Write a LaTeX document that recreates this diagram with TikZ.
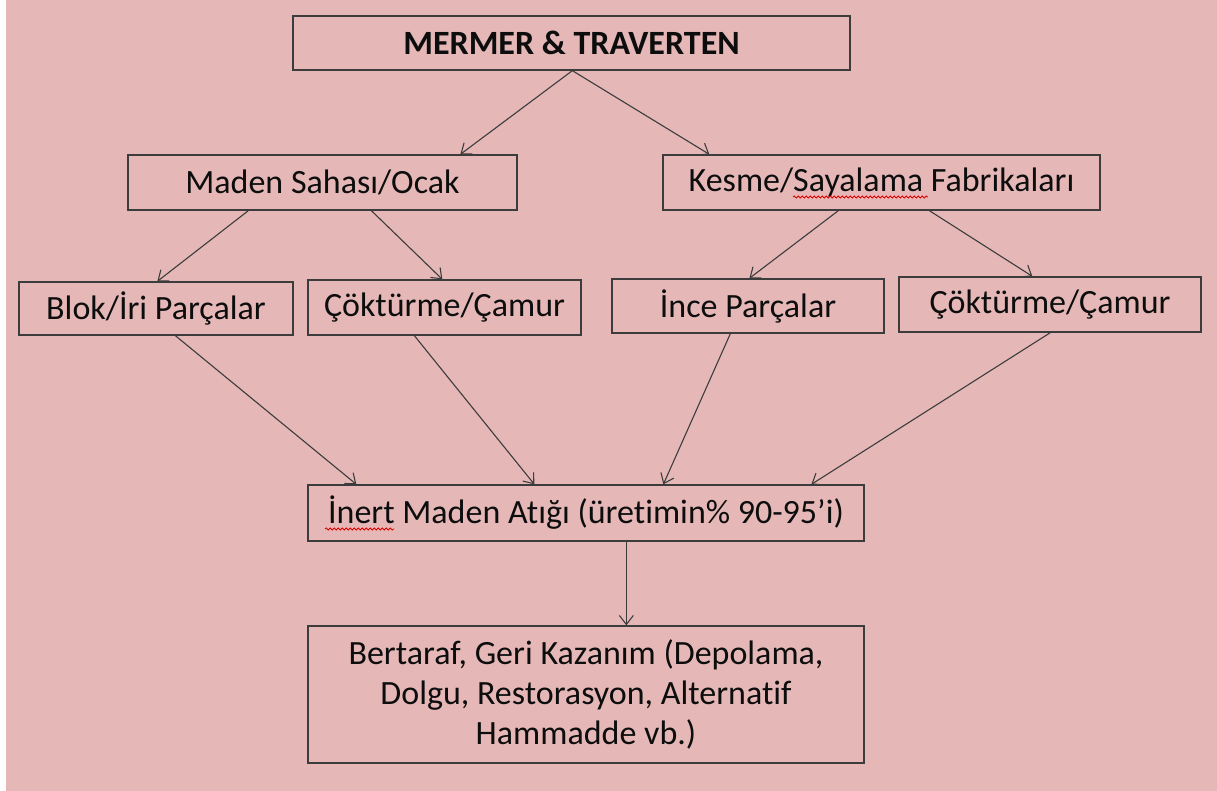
\documentclass[tikz,border=0pt]{standalone}
\usepackage{fontspec}
\setmainfont{Carlito}[Ligatures={NoCommon}]
\usetikzlibrary{arrows.meta,decorations.pathmorphing}
\definecolor{bgpink}{RGB}{229,184,183}
\definecolor{linegray}{RGB}{60,60,60}
\definecolor{txt}{RGB}{13,13,13}
\tikzset{
  box/.style={draw=linegray, line width=1.3pt, inner sep=0pt, align=center,
    text=txt, font=\fontsize{34}{40}\selectfont},
  arr/.style={draw=linegray, line width=1.1pt,
    -{Straight Barb[length=9pt,width=14pt,line width=1.1pt]}},
  squig/.style={draw=red!85!black, line width=0.8pt, decorate,
    decoration={snake, segment length=4pt, amplitude=1pt}}
}
\begin{document}
\begin{tikzpicture}[x=1pt,y=-1pt]
\useasboundingbox (0,0) rectangle (1217,791);
\fill[white] (0,0) rectangle (1217,791);
\fill[bgpink] (6,0) rectangle (1217,791);

\node[box, minimum width=557pt, minimum height=54pt, font=\fontsize{34}{40}\selectfont\bfseries] (top) at (571.5,43) {MERMER \& TRAVERTEN};
\node[box, minimum width=389pt, minimum height=55pt] (maden) at (322.5,182.5) {Maden Sahası/Ocak};
\node[box, minimum width=437pt, minimum height=55pt] (kesme) at (881.5,182.5) {Kesme/Sayalama Fabrikaları};
\node[box, minimum width=274pt, minimum height=53pt] (blok) at (156,308.5) {Blok/İri Parçalar};
\node[box, minimum width=273pt, minimum height=55pt] (cok1) at (444.5,307.5) {Çöktürme/Çamur};
\node[box, minimum width=272pt, minimum height=54pt] (ince) at (748,306) {İnce Parçalar};
\node[box, minimum width=302pt, minimum height=55pt] (cok2) at (1050,304.5) {Çöktürme/Çamur};
\node[box, minimum width=556pt, minimum height=56pt] (inert) at (586,513) {İnert Maden Atığı (üretimin\% 90-95’i)};
\node[box, minimum width=556pt, minimum height=137pt] (bert) at (586,694.5) {Bertaraf, Geri Kazanım (Depolama,\\Dolgu, Restorasyon, Alternatif\\Hammadde vb.)};

% spell-check underlines
\draw[squig] (793,197) -- (928,197);
\draw[squig] (325,529) -- (394,529);

% connectors
\draw[arr] ([xshift=280pt]top.south west) -- ([xshift=333pt]maden.north west);
\draw[arr] ([xshift=280pt]top.south west) -- ([xshift=47pt]kesme.north west);

\draw[arr] ([xshift=121pt]maden.south west) -- ([xshift=139pt]blok.north west);
\draw[arr] ([xshift=244pt]maden.south west) -- ([xshift=135pt]cok1.north west);
\draw[arr] ([xshift=176pt]kesme.south west) -- ([xshift=138pt]ince.north west);
\draw[arr] ([xshift=267pt]kesme.south west) -- ([xshift=134pt]cok2.north west);

\draw[arr] ([xshift=157pt]blok.south west) -- ([xshift=49pt]inert.north west);
\draw[arr] ([xshift=107pt]cok1.south west) -- ([xshift=227pt]inert.north west);
\draw[arr] ([xshift=119pt]ince.south west) -- ([xshift=356pt]inert.north west);
\draw[arr] ([xshift=152pt]cok2.south west) -- ([xshift=504pt]inert.north west);

\draw[arr] ([xshift=319pt]inert.south west) -- ([xshift=319pt]bert.north west);
\end{tikzpicture}
\end{document}
